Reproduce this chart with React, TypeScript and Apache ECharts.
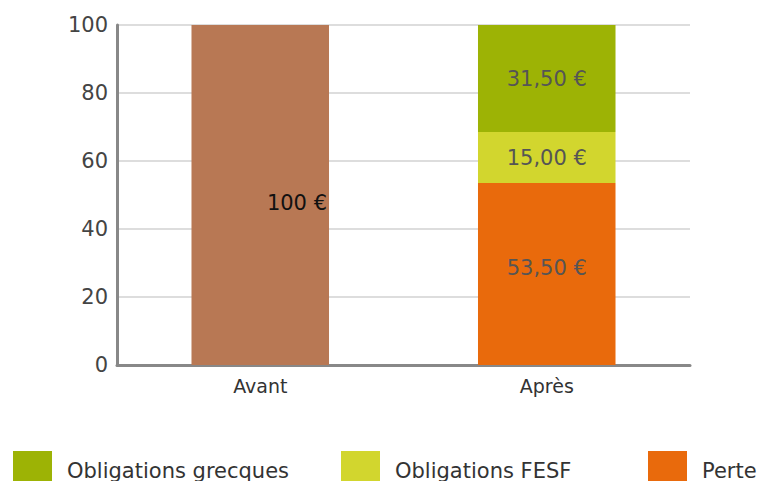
import React, { useEffect, useRef } from "react";
import * as echarts from "echarts";

const categories = ["Avant", "Après"];
const avantValues = [100, null];
const perteValues = [null, 53.5];
const fesfValues = [null, 15.0];
const grecquesValues = [null, 31.5];
const yTicks = { min: 0, max: 100, interval: 20 };

const FONT = "'DejaVu Sans', sans-serif";

const fmt = (v: number) => v.toFixed(2).replace(".", ",") + " €";

export default function App() {
  const ref = useRef<HTMLDivElement>(null);
  useEffect(() => {
    if (!ref.current) return;
    const chart = echarts.init(ref.current, null, { renderer: "svg" });
    const segLabel = {
      show: true,
      position: "inside",
      color: "#555",
      fontFamily: FONT,
      fontSize: 21,
      formatter: (p: any) => fmt(p.value),
    };
    const legendBase = {
      itemWidth: 39,
      itemHeight: 39,
      top: 446,
      icon: "rect",
      itemGap: 16,
      textStyle: {
        fontFamily: FONT,
        fontSize: 21,
        lineHeight: 21,
        color: "#333",
        padding: [0, 0, 0, 10],
      },
    };
    chart.setOption({
      animation: false,
      grid: { left: 117, right: 67, top: 25, bottom: 116 },
      legend: [
        { ...legendBase, left: 8, data: ["Obligations grecques"] },
        { ...legendBase, left: 336, data: ["Obligations FESF"] },
        { ...legendBase, left: 643, data: ["Perte"] },
      ],
      xAxis: {
        type: "category",
        data: categories,
        axisLine: { lineStyle: { color: "#888", width: 3 } },
        axisTick: { show: false },
        axisLabel: { fontFamily: FONT, fontSize: 19, color: "#333", margin: 11 },
      },
      yAxis: {
        type: "value",
        min: yTicks.min,
        max: yTicks.max,
        interval: yTicks.interval,
        axisLine: { show: true, lineStyle: { color: "#888", width: 3 } },
        axisTick: { show: false },
        splitLine: { lineStyle: { color: "#ddd", width: 2 } },
        axisLabel: { fontFamily: FONT, fontSize: 21, color: "#444", margin: 9 },
      },
      series: [
        {
          name: "Avant",
          type: "bar",
          stack: "total",
          barWidth: "48%",
          data: avantValues,
          itemStyle: { color: "#B87854" },
          label: {
            show: true,
            position: "insideRight",
            distance: 2,
            offset: [0, 8],
            color: "#111",
            fontFamily: FONT,
            fontSize: 21,
            formatter: (p: any) => p.value + " €",
          },
        },
        {
          name: "Perte",
          type: "bar",
          stack: "total",
          barWidth: "48%",
          data: perteValues,
          itemStyle: { color: "#E96A0C" },
          label: { ...segLabel, offset: [0, -6] },
        },
        {
          name: "Obligations FESF",
          type: "bar",
          stack: "total",
          barWidth: "48%",
          data: fesfValues,
          itemStyle: { color: "#D2D62E" },
          label: segLabel,
        },
        {
          name: "Obligations grecques",
          type: "bar",
          stack: "total",
          barWidth: "48%",
          data: grecquesValues,
          itemStyle: { color: "#9DB305" },
          label: segLabel,
        },
      ],
    });
    return () => chart.dispose();
  }, []);
  return <div ref={ref} style={{ width: 757, height: 481, position: "absolute", left: 0, top: 0 }} />;
}
